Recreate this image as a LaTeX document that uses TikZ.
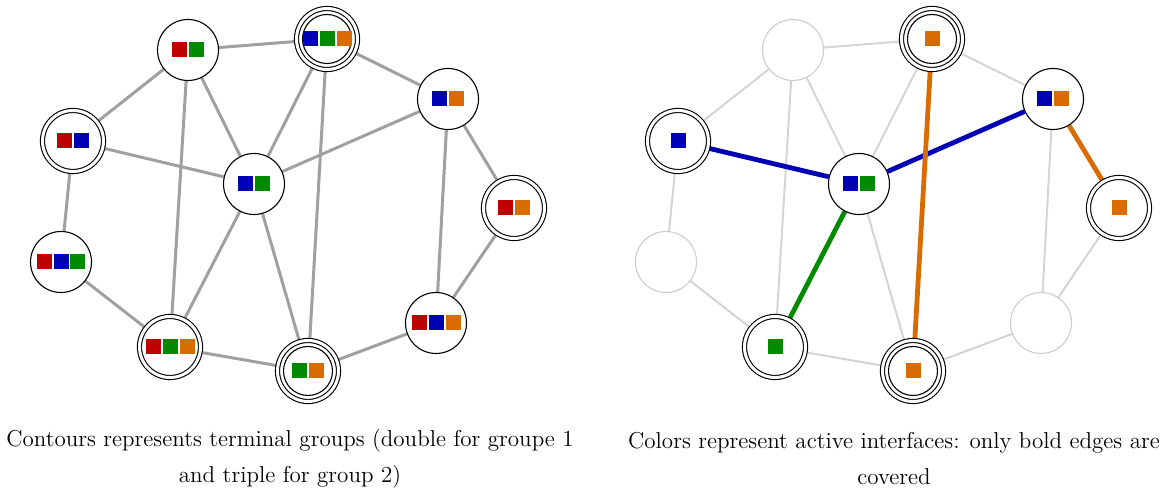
\documentclass[tikz,border=0pt]{standalone}
\usepackage{xcolor}
\usetikzlibrary{backgrounds}
\definecolor{cR}{RGB}{191,0,0}
\definecolor{cB}{RGB}{0,0,180}
\definecolor{cG}{RGB}{0,138,0}
\definecolor{cO}{RGB}{217,108,0}
\definecolor{edgec}{RGB}{160,160,160}
\definecolor{lightc}{RGB}{212,212,212}
\definecolor{ghostc}{RGB}{205,205,205}
\newcommand\sqbox[1]{\textcolor{#1}{\rule{7.5pt}{7.5pt}}}
\newcommand\gp{\kern1pt}
\begin{document}
\begin{tikzpicture}[x=0.5pt,y=-0.5pt,
  vtx/.style={circle,draw=black,fill=white,line width=0.55pt,minimum size=30.5pt,inner sep=0pt},
  dbl/.style={vtx,double,double distance=1.5pt},
  tpl/.style={dbl,path picture={\draw[black,line width=0.55pt] (path picture bounding box.center) circle (12.25pt);}},
  ghost/.style={vtx,draw=ghostc},
  ed/.style={draw=edgec,line width=1.5pt},
  led/.style={draw=lightc,line width=1pt},
  bed/.style={line width=2.4pt},
  captxt/.style={align=center,font=\fontsize{11.5}{18}\selectfont,inner sep=0pt}
]
\useasboundingbox (0,0) rectangle (1166,490);
% left graph
\node[vtx] (a1) at (188,50) {\sqbox{cR}\gp\sqbox{cG}};
\node[tpl] (b1) at (327,39) {\sqbox{cB}\gp\sqbox{cG}\gp\sqbox{cO}};
\node[vtx] (c1) at (448,99) {\sqbox{cB}\gp\sqbox{cO}};
\node[dbl] (d1) at (73,141) {\sqbox{cR}\gp\sqbox{cB}};
\node[vtx] (e1) at (254,184) {\sqbox{cB}\gp\sqbox{cG}};
\node[dbl] (f1) at (514,208) {\sqbox{cR}\gp\sqbox{cO}};
\node[vtx] (g1) at (61,262) {\sqbox{cR}\gp\sqbox{cB}\gp\sqbox{cG}};
\node[dbl] (h1) at (170,347) {\sqbox{cR}\gp\sqbox{cG}\gp\sqbox{cO}};
\node[tpl] (i1) at (308,371) {\sqbox{cG}\gp\sqbox{cO}};
\node[vtx] (j1) at (436,323) {\sqbox{cR}\gp\sqbox{cB}\gp\sqbox{cO}};
\begin{scope}[on background layer]
\draw[ed] (a1) -- (b1);
\draw[ed] (a1) -- (d1);
\draw[ed] (a1) -- (e1);
\draw[ed] (a1) -- (h1);
\draw[ed] (b1) -- (c1);
\draw[ed] (b1) -- (e1);
\draw[ed] (b1) -- (i1);
\draw[ed] (c1) -- (e1);
\draw[ed] (c1) -- (f1);
\draw[ed] (c1) -- (j1);
\draw[ed] (d1) -- (e1);
\draw[ed] (d1) -- (g1);
\draw[ed] (g1) -- (h1);
\draw[ed] (e1) -- (h1);
\draw[ed] (e1) -- (i1);
\draw[ed] (h1) -- (i1);
\draw[ed] (i1) -- (j1);
\draw[ed] (j1) -- (f1);
\end{scope}
% right graph
\node[ghost] (a2) at (793,50) {};
\node[tpl] (b2) at (932,39) {\sqbox{cO}};
\node[vtx] (c2) at (1053,99) {\sqbox{cB}\gp\sqbox{cO}};
\node[dbl] (d2) at (678,141) {\sqbox{cB}};
\node[vtx] (e2) at (859,184) {\sqbox{cB}\gp\sqbox{cG}};
\node[dbl] (f2) at (1119,208) {\sqbox{cO}};
\node[ghost] (g2) at (666,262) {};
\node[dbl] (h2) at (775,347) {\sqbox{cG}};
\node[tpl] (i2) at (913,371) {\sqbox{cO}};
\node[ghost] (j2) at (1041,323) {};
\begin{scope}[on background layer]
\draw[led] (a2) -- (b2);
\draw[led] (a2) -- (d2);
\draw[led] (a2) -- (e2);
\draw[led] (a2) -- (h2);
\draw[led] (b2) -- (c2);
\draw[led] (b2) -- (e2);
\draw[led] (c2) -- (j2);
\draw[led] (d2) -- (g2);
\draw[led] (g2) -- (h2);
\draw[led] (e2) -- (i2);
\draw[led] (h2) -- (i2);
\draw[led] (i2) -- (j2);
\draw[led] (j2) -- (f2);
\draw[bed,draw=cB] (d2) -- (e2);
\draw[bed,draw=cB] (e2) -- (c2);
\draw[bed,draw=cG] (e2) -- (h2);
\draw[bed,draw=cO] (b2) -- (i2);
\draw[bed,draw=cO] (c2) -- (f2);
\end{scope}
% captions
\node[captxt] (cap1) at (290,459) {Contours represents terminal groups (double for groupe 1\\and triple for group 2)};
\node[captxt] (cap2) at (894,459) {Colors represent active interfaces: only bold edges are\\covered};
\end{tikzpicture}
\end{document}
